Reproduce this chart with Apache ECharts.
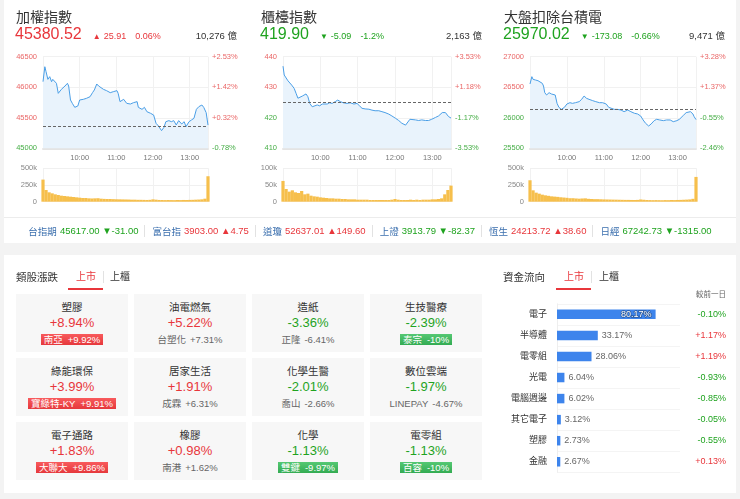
<!DOCTYPE html>
<html><head><meta charset="utf-8">
<script src="https://cdn.jsdelivr.net/npm/echarts@6/dist/echarts.min.js"></script>
<style>
html,body{margin:0;padding:0;}
body{width:740px;height:499px;overflow:hidden;background:#f3f3f3;position:relative;font-family:"Liberation Sans",Arial,"Noto Sans CJK TC",sans-serif;color:#333;}
.card{position:absolute;background:#fff;z-index:0;}
#chart{position:absolute;left:0;top:0;width:740px;height:499px;z-index:1;}
.t{position:absolute;white-space:nowrap;z-index:2;}
.hdr{display:flex;align-items:baseline;line-height:20px;}
.tick{position:absolute;left:0;top:222px;width:740px;height:17px;display:flex;justify-content:center;align-items:center;font-size:9.5px;z-index:2;white-space:nowrap;}
.tick .sep{width:1px;height:12px;background:#e2e2e2;margin:0 7px 0 6px;}
.tick .nm{color:#3b6fae;margin-right:3px;}
.tile{position:absolute;width:112px;height:58px;background:#f7f7f7;z-index:2;}
.tile div{position:absolute;left:0;width:100%;text-align:center;white-space:nowrap;}
.badge{display:inline-block;height:11px;line-height:11px;padding:0 3px;color:#fff;}
</style></head>
<body>
<div class="card" style="left:4px;top:0;width:732px;height:243px;"></div>
<div class="card" style="left:4px;top:217px;width:732px;height:1px;background:#ececec;z-index:1"></div>
<div class="card" style="left:4px;top:255px;width:732px;height:238px;"></div>
<div id="chart"></div>
<div id="overlay"></div>
<script>
// ---------- header data ----------
const headerNames = ['加權指數','櫃檯指數','大盤扣除台積電'];
const headerLast = [45380.52, 419.90, 25970.02];
const headerChange = [25.91, -5.09, -173.08];
const headerPct = ['0.06%','-1.2%','-0.66%'];
const headerAmount = ['10,276','2,163','9,471'];

// ---------- axis tick data ----------
const priceMin = [45000, 410, 25500];
const priceMax = [46500, 440, 27000];
const priceStep = [500, 10, 500];
const volMax = [500, 100, 500];
const volStep = [250, 50, 250];

// ---------- intraday series (minutes after 09:00) ----------
const taiexMin = [0,3,5,8,11,14,16,19,22,25,27,30,36,40,42,45,48,52,57,60,66,71,77,81,84,88,91,93,99,104,110,115,121,123,126,132,137,143,148,154,156,162,166,170,176,181,185,189,194,198,201,206,210,214,218,222,227,231,234,239,243,247,251,255,260,263,267,270];
const taiexVal = [46091,46336,46254,46129,46173,46091,46129,46107,46064,45900,45873,45965,46020,46064,46020,45791,45736,45671,45693,45791,45802,45818,45845,45911,45955,46053,46020,45998,45965,45944,45911,45927,45944,45900,45764,45802,45736,45725,45747,45764,45671,45638,45671,45600,45573,45545,45409,45365,45289,45344,45436,45453,45436,45453,45382,45453,45398,45436,45355,45436,45464,45491,45638,45682,45709,45671,45584,45380.52];
const otcMin = [0,2,5,8,11,14,18,21,24,27,31,34,37,40,43,47,50,55,59,63,66,71,75,79,84,88,92,97,103,108,114,119,123,127,132,138,143,148,154,159,164,170,175,181,186,191,197,199,204,207,213,218,223,229,234,239,245,250,256,261,266,270];
const otcVal = [436.9,434.0,433.5,432.1,431.5,430.7,429.6,428.0,426.4,426.7,427.1,427.5,427.8,426.9,424.7,423.6,423.4,424.2,423.9,424.5,425.0,424.5,424.9,424.7,425.3,425.8,425.3,424.9,424.7,424.9,424.5,424.7,423.9,423.1,422.9,422.8,422.5,422.3,422.3,422.0,421.7,421.2,420.6,419.8,419.1,418.2,417.6,418.2,419.5,419.5,419.3,419.1,419.3,419.1,419.1,419.5,420.1,420.6,421.7,421.7,420.4,419.90];
const exTsmcMin = [0,3,5,9,13,16,20,22,24,27,31,35,38,41,44,47,51,54,56,60,65,69,74,80,84,88,92,96,102,107,113,118,124,128,131,137,142,148,153,159,164,170,175,180,184,188,193,197,202,206,211,217,222,228,233,239,243,246,250,254,257,261,265,267,270];
const exTsmcVal = [26553,26673,26629,26618,26607,26585,26564,26520,26411,26373,26411,26389,26411,26373,26236,26171,26138,26155,26171,26225,26247,26236,26247,26264,26302,26356,26318,26302,26280,26264,26247,26247,26225,26171,26155,26138,26138,26127,26100,26127,26100,26073,26062,26029,25964,25909,25865,25898,25953,25975,25964,25953,25964,25964,25936,25953,25975,25991,26045,26084,26116,26100,26062,26018,25970.02];

// ---------- volume (k), 5-minute bins ----------
const volMin = [0,5,10,15,20,25,30,35,40,45,50,55,60,65,70,75,80,85,90,95,100,105,110,115,120,125,130,135,140,145,150,155,160,165,170,175,180,185,190,195,200,205,210,215,220,225,230,235,240,245,250,255,260,265,270];
const taiexVol = [330,175,140,125,110,100,90,85,80,75,70,65,60,55,55,50,48,50,52,45,42,40,40,38,36,35,34,33,32,30,30,28,28,27,26,28,35,30,26,25,24,25,24,23,25,24,26,25,27,28,30,32,35,45,380];
const otcVol = [62,38,30,34,28,26,32,22,24,18,16,15,13,12,11,10,10,9,9,8,8,7,7,7,6,6,6,6,5,5,5,5,5,5,5,6,8,6,5,5,5,6,5,6,5,6,6,6,7,7,8,10,22,35,48];
const exTsmcVol = [320,170,135,120,105,95,88,80,76,72,66,62,58,52,52,48,45,48,50,43,40,38,38,36,34,33,32,31,30,29,28,27,27,26,25,27,33,29,25,24,23,24,23,22,24,23,25,24,26,27,29,31,34,43,370];

// ---------- ticker row ----------
const tickerNames = ['台指期','富台指','道瓊','上證','恆生','日經'];
const tickerValues = ['45617.00','3903.00','52637.01','3913.79','24213.72','67242.73'];
const tickerChanges = [-31.00, 4.75, 149.60, -82.37, 38.60, -1315.00];

// ---------- sectors ----------
const sectorNames = ['塑膠','油電燃氣','造紙','生技醫療','綠能環保','居家生活','化學生醫','數位雲端','電子通路','橡膠','化學','電零組'];
const sectorPcts = [8.94,5.22,-3.36,-2.39,3.99,1.91,-2.01,-1.97,1.83,0.98,-1.13,-1.13];
const leaderNames = ['南亞','台塑化','正隆','泰宗','寶綠特-KY','成霖','喬山','LINEPAY','大聯大','南港','雙鍵','百容'];
const leaderPcts = ['+9.92%','+7.31%','-6.41%','-10%','+9.91%','+6.31%','-2.66%','-4.67%','+9.86%','+1.62%','-9.97%','-10%'];

// ---------- fund flow ----------
const flowNames = ['電子','半導體','電零組','光電','電腦週邊','其它電子','塑膠','金融'];
const flowShares = [80.17,33.17,28.06,6.04,6.02,3.12,2.73,2.67];
const flowChanges = ['-0.10%','+1.17%','+1.19%','-0.93%','-0.85%','-0.05%','-0.55%','+0.13%'];

const RED='#e8363b', GREEN='#1fa31f', AX_RED='#ea6767', AX_GREEN='#45ad45';
const colLeft=[16,261,504];
const gridLeft=[43,283,530], gridW=[165,168,166];

let html='';
// headers
headerNames.forEach((n,i)=>{
  const up = headerChange[i]>=0, c = up?RED:GREEN;
  html += `<div class="t" style="left:${colLeft[i]}px;top:8px;font-size:14px;line-height:18px;color:#333">${n}</div>`;
  html += `<div class="t hdr" style="left:${colLeft[i]-1}px;top:24px;width:222px;">
    <span style="font-size:16px;color:${c}">${headerLast[i].toFixed(2)}</span>
    <span style="font-size:8px;color:${c};margin-left:11px">${up?'▲':'▼'}</span>
    <span style="font-size:9px;color:${c};margin-left:3px">${headerChange[i].toFixed(2)}</span>
    <span style="font-size:9px;color:${c};margin-left:9px">${headerPct[i]}</span>
    <span style="margin-left:auto;font-size:9.5px;color:#333">${headerAmount[i]} 億</span></div>`;
});
// ticker
html += '<div class="tick">';
tickerNames.forEach((n,i)=>{
  const up = tickerChanges[i]>=0, c = up?RED:GREEN;
  if(i>0) html += '<span class="sep"></span>';
  html += `<span class="nm">${n}</span><span style="color:${c}">${tickerValues[i]} ${up?'▲':'▼'}${up?'':'-'}${Math.abs(tickerChanges[i]).toFixed(2)}</span>`;
});
html += '</div>';
// section titles & tabs
function tabs(x, title, tabX, ulX, sepX, tab2X){
  let s = `<div class="t" style="left:${x}px;top:270px;font-size:10.5px;line-height:14px;color:#333">${title}</div>`;
  s += `<div class="t" style="left:${tabX}px;top:270px;font-size:10px;line-height:14px;color:${RED}">上市</div>`;
  s += `<div class="t" style="left:${ulX}px;top:288px;width:35px;height:2px;background:${RED}"></div>`;
  s += `<div class="t" style="left:${sepX}px;top:271px;width:1px;height:12px;background:#e2e2e2"></div>`;
  s += `<div class="t" style="left:${tab2X}px;top:270px;font-size:10px;line-height:14px;color:#333">上櫃</div>`;
  return s;
}
html += tabs(16,'類股漲跌',76,68,103,110);
html += tabs(503,'資金流向',564,556,591,599);
html += `<div class="t" style="left:680px;width:46px;text-align:right;top:289px;font-size:7.5px;line-height:12px;color:#666">較前一日</div>`;
// tiles
sectorNames.forEach((n,i)=>{
  const col=i%4,row=Math.floor(i/4);
  const up=sectorPcts[i]>=0, c=up?RED:GREEN;
  const lp=parseFloat(leaderPcts[i]);
  const badge=Math.abs(lp)>=9.5;
  let lead;
  if(badge){
    const bg = lp>0?'linear-gradient(#f85a5c,#e6383c)':'linear-gradient(#55c873,#33ab52)';
    lead = `<span class="badge" style="background:${bg}">${leaderNames[i]}<span style="margin-left:5px">${leaderPcts[i]}</span></span>`;
  } else {
    lead = `<span style="color:#666">${leaderNames[i]}<span style="margin-left:4px">${leaderPcts[i]}</span></span>`;
  }
  html += `<div class="tile" style="left:${16+col*118}px;top:${294+row*64}px">
    <div style="top:6px;font-size:10.5px;line-height:15px;color:#333">${n}</div>
    <div style="top:20px;font-size:13px;line-height:18px;color:${c}">${up?'+':''}${sectorPcts[i].toFixed(2)}%</div>
    <div style="top:39.5px;font-size:9.5px;line-height:11px;">${lead}</div></div>`;
});
document.getElementById('overlay').innerHTML = html;

// ---------- ECharts ----------
const pad=n=>(n<10?'0':'')+n;
const fmtTime=m=>pad(9+Math.floor(m/60))+':'+pad(m%60);
const priceSets=[[taiexMin,taiexVal],[otcMin,otcVal],[exTsmcMin,exTsmcVal]];
const vols=[taiexVol,otcVol,exTsmcVol];
const grids=[],xAxes=[],yAxes=[],series=[];
for(let i=0;i<3;i++){
  const prev = +(headerLast[i]-headerChange[i]).toFixed(2);
  grids.push({left:gridLeft[i],top:56.7,width:gridW[i],height:91.6});
  grids.push({left:gridLeft[i],top:168.2,width:gridW[i],height:33.5});
  xAxes.push({type:'value',gridIndex:2*i,min:0,max:270,interval:60,
    axisLine:{show:true,onZero:false,lineStyle:{color:'#e4e4e4',width:2}},axisTick:{show:false},
    splitLine:{show:true,lineStyle:{color:'#f1f1f1'}},
    axisLabel:{fontSize:7.5,color:'#777',margin:6,showMinLabel:false,showMaxLabel:false,formatter:v=>fmtTime(v)}});
  xAxes.push({type:'value',gridIndex:2*i+1,min:0,max:270,interval:60,
    axisLine:{show:false},axisTick:{show:false},axisLabel:{show:false},
    splitLine:{show:true,lineStyle:{color:'#f1f1f1'}}});
  const rich={r:{color:AX_RED,fontSize:7.5},g:{color:AX_GREEN,fontSize:7.5}};
  yAxes.push({type:'value',gridIndex:2*i,min:priceMin[i],max:priceMax[i],interval:priceStep[i],
    axisLine:{show:false},axisTick:{show:false},splitLine:{lineStyle:{color:'#f1f1f1'}},
    axisLabel:{margin:6,formatter:v=>(v>prev?'{r|':'{g|')+v+'}',rich}});
  yAxes.push({type:'value',gridIndex:2*i,position:'right',min:priceMin[i],max:priceMax[i],interval:priceStep[i],
    axisLine:{show:false},axisTick:{show:false},splitLine:{show:false},
    axisLabel:{margin:4,formatter:v=>{const p=(v/prev-1)*100;return (p>0?'{r|+':'{g|')+p.toFixed(2)+'%}';},rich}});
  yAxes.push({type:'value',gridIndex:2*i+1,min:0,max:volMax[i],interval:volStep[i],
    axisLine:{show:false},axisTick:{show:false},splitLine:{lineStyle:{color:'#f0f0f0'}},
    axisLabel:{fontSize:7.5,color:'#888',margin:6,formatter:v=>v===0?'0':v+'k'}});
  const [mins,vals]=priceSets[i];
  series.push({type:'line',xAxisIndex:2*i,yAxisIndex:3*i,showSymbol:false,silent:true,
    data:mins.map((m,k)=>[m,vals[k]]),
    lineStyle:{color:'#4a9ee6',width:1},
    areaStyle:{color:'#e9f3fc',opacity:1,origin:'start'},
    markLine:{silent:true,symbol:['none','none'],label:{show:false},
      lineStyle:{type:[3,2],color:'#666',width:1},data:[{yAxis:prev}]}});
  series.push({type:'bar',xAxisIndex:2*i+1,yAxisIndex:3*i+2,barWidth:3.2,silent:true,
    data:volMin.map((m,k)=>[m,vols[i][k]]),itemStyle:{color:'#f6bf4c'}});
}
grids.push({left:557,top:303.8,width:123,height:168.5});
xAxes.push({type:'value',gridIndex:6,min:0,max:100,show:false});
yAxes.push({type:'category',gridIndex:6,data:flowNames,inverse:true,
  axisTick:{show:false},axisLine:{lineStyle:{color:'#eeeeee'}},
  axisLabel:{fontSize:9,color:'#333',margin:10},
  splitLine:{show:true,lineStyle:{color:'#f4f4f4'}}});
yAxes.push({type:'category',gridIndex:6,data:flowChanges,inverse:true,position:'right',
  axisTick:{show:false},axisLine:{show:false},
  axisLabel:{margin:46,align:'right',formatter:v=>(v.charAt(0)==='+'?'{r|':'{g|')+v+'}',
    rich:{r:{color:RED,fontSize:9},g:{color:GREEN,fontSize:9}}}});
series.push({type:'bar',xAxisIndex:6,yAxisIndex:9,barWidth:9.5,silent:true,
  itemStyle:{color:'#3d84ec'},
  label:{show:true,fontSize:9,distance:4,formatter:p=>p.value.toFixed(2)+'%'},
  data:flowShares.map(v=>({value:v,label:v>50?{position:'insideRight',color:'#fff',textBorderColor:'rgba(0,0,0,0.35)',textBorderWidth:1.5}:{position:'right',color:'#666'}}))});

const chart=echarts.init(document.getElementById('chart'),null,{renderer:'canvas'});
chart.setOption({animation:false,textStyle:{fontFamily:'"Liberation Sans",Arial,"Noto Sans CJK TC",sans-serif'},
  grid:grids,xAxis:xAxes,yAxis:yAxes,series});
</script>
</body></html>
